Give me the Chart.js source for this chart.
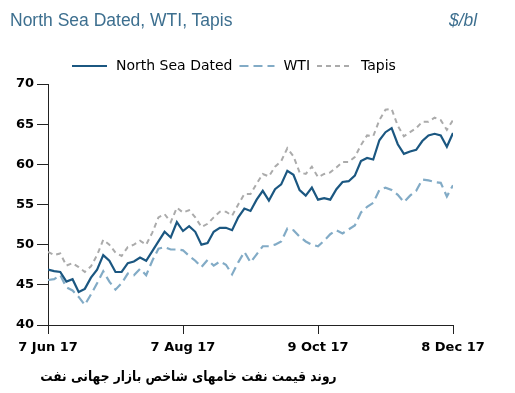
<!DOCTYPE html>
<html>
<head>
<meta charset="utf-8">
<script src="https://cdn.jsdelivr.net/npm/chart.js@4"></script>
<style>
  body { margin: 0; background: #fff; }
  #wrap { position: relative; width: 515px; height: 393px; }
  #title { position: absolute; left: 10px; top: 10px; font: 17.5px 'Liberation Sans', sans-serif; color: #3d6f8f; }
  #unit { position: absolute; left: 449px; top: 10px; font: italic 17.5px 'Liberation Sans', sans-serif; color: #3d6f8f; }
  #caption { position: absolute; right: 178px; top: 368px; font: bold 14px 'DejaVu Sans', sans-serif; color: #000; direction: rtl; white-space: nowrap; transform: scaleX(0.875); transform-origin: right center; }
</style>
</head>
<body>
<div id="wrap">
  <canvas id="chart"></canvas>
  <div id="title">North Sea Dated, WTI, Tapis</div>
  <div id="unit">$/bl</div>
  <div id="caption">روند قیمت نفت خامهای شاخص بازار جهانی نفت</div>
</div>
<script>
// trading-day index, every 2nd day from 7 Jun 17
const days = [0, 2, 4, 6, 8, 10, 12, 14, 16, 18, 20, 22, 24, 26, 28, 30, 32, 34, 36, 38,
  40, 42, 44, 46, 48, 50, 52, 54, 56, 58, 60, 62, 64, 66, 68, 70, 72, 74, 76, 78,
  80, 82, 84, 86, 88, 90, 92, 94, 96, 98, 100, 102, 104, 106, 108, 110, 112, 114, 116, 118,
  120, 122, 124, 126, 128, 130, 132];

const northSea = [46.9, 46.7, 46.6, 45.4, 45.7, 44.1, 44.5, 45.9, 46.9, 48.7,
  48.0, 46.6, 46.6, 47.7, 47.9, 48.4, 48.0, 49.2, 50.4, 51.6,
  50.9, 52.8, 51.7, 52.3, 51.6, 50.0, 50.2, 51.6, 52.1, 52.1,
  51.8, 53.4, 54.5, 54.2, 55.6, 56.7, 55.5, 56.9, 57.5, 59.2,
  58.7, 56.8, 56.1, 57.1, 55.6, 55.8, 55.6, 56.9, 57.8, 57.9,
  58.6, 60.4, 60.8, 60.6, 63.0, 64.0, 64.5, 62.5, 61.3, 61.6,
  61.8, 62.9, 63.6, 63.8, 63.6, 62.2, 63.9];

const wti = [45.6, 45.7, 46.2, 44.7, 44.3, 43.5, 42.5, 43.8, 45.2, 46.7,
  45.4, 44.4, 45.2, 46.4, 46.2, 47.0, 46.2, 48.0, 49.5, 49.7,
  49.4, 49.4, 49.3, 48.6, 48.0, 47.2, 48.1, 47.4, 47.9, 47.5,
  46.3, 47.8, 49.1, 47.8, 48.8, 49.8, 49.8, 50.0, 50.4, 52.0,
  51.8, 51.0, 50.4, 50.0, 49.8, 50.5, 51.3, 51.8, 51.4, 51.9,
  52.4, 54.0, 54.7, 55.2, 56.8, 57.1, 56.8, 56.2, 55.3, 56.1,
  56.7, 58.1, 58.0, 57.8, 57.7, 56.0, 57.4];

const tapis = [49.1, 48.7, 48.9, 47.4, 47.7, 47.2, 46.6, 47.3, 48.7, 50.6,
  50.0, 49.0, 48.6, 49.7, 50.0, 50.5, 50.0, 51.5, 53.4, 53.8,
  52.8, 54.6, 54.0, 54.3, 53.4, 52.2, 52.6, 53.4, 54.1, 54.1,
  53.6, 55.0, 56.3, 56.3, 57.6, 58.8, 58.5, 59.7, 60.4, 62.0,
  61.0, 59.0, 58.8, 59.7, 58.4, 58.8, 59.0, 59.6, 60.3, 60.3,
  60.9, 62.4, 63.6, 63.5, 65.5, 66.8, 66.9, 64.8, 63.5, 64.0,
  64.5, 65.3, 65.3, 65.8, 65.5, 64.3, 65.5];

const dateTicks = [0, 44, 88, 132];
const dateLabels = ['7 Jun 17', '7 Aug 17', '9 Oct 17', '8 Dec 17'];
const yTicks = [40, 45, 50, 55, 60, 65, 70];

function pts(values) {
    return values.map((v, i) => ({ x: days[i], y: v }));
}

// Legend drawn above the plot with line samples
const legendPlugin = {
    id: 'lineLegend',
    afterDraw(chart) {
        const ctx = chart.ctx;
        let x = 72;
        const y = 66;
        ctx.save();
        ctx.font = '14px "DejaVu Sans", sans-serif';
        ctx.textBaseline = 'middle';
        chart.data.datasets.forEach(ds => {
            ctx.strokeStyle = ds.borderColor;
            ctx.lineWidth = 2;
            ctx.setLineDash(ds.borderDash || []);
            ctx.beginPath();
            ctx.moveTo(x, y);
            ctx.lineTo(x + 35, y);
            ctx.stroke();
            ctx.setLineDash([]);
            x += 44;
            ctx.fillStyle = '#000';
            ctx.fillText(ds.label, x, y);
            x += ctx.measureText(ds.label).width + 7;
        });
        ctx.restore();
    }
};

const ctx = document.getElementById('chart').getContext('2d');
new Chart(ctx, {
    type: 'line',
    data: {
        datasets: [
            { label: 'North Sea Dated', data: pts(northSea), borderColor: '#1b5781', borderWidth: 2.2 },
            { label: 'WTI', data: pts(wti), borderColor: '#82abc6', borderWidth: 2.2, borderDash: [9, 5] },
            { label: 'Tapis', data: pts(tapis), borderColor: '#ababab', borderWidth: 2, borderDash: [5, 4] }
        ]
    },
    options: {
        responsive: true,
        maintainAspectRatio: false,
        animation: false,
        layout: { padding: { top: 84, right: 62, left: 0, bottom: 0 } },
        elements: { point: { radius: 0 }, line: { tension: 0 } },
        plugins: { legend: { display: false }, tooltip: { enabled: false } },
        scales: {
            x: {
                type: 'linear',
                min: 0,
                max: 132,
                afterFit: s => { s.height = 68; },
                afterBuildTicks: s => { s.ticks = dateTicks.map(v => ({ value: v })); },
                border: { color: '#222', width: 1 },
                grid: { drawOnChartArea: false, drawTicks: true, tickLength: 9, color: '#222' },
                ticks: {
                    color: '#000',
                    padding: 6,
                    maxRotation: 0,
                    font: { family: 'DejaVu Sans', size: 13, weight: 'bold' },
                    callback: v => dateLabels[dateTicks.indexOf(v)]
                }
            },
            y: {
                min: 40,
                max: 70,
                afterFit: s => { s.width = 48; },
                afterBuildTicks: s => { s.ticks = yTicks.map(v => ({ value: v })); },
                border: { color: '#222', width: 1 },
                grid: { drawOnChartArea: false, drawTicks: true, tickLength: 11, color: '#222' },
                ticks: {
                    color: '#000',
                    padding: 3,
                    font: { family: 'DejaVu Sans', size: 13, weight: 'bold' }
                }
            }
        }
    },
    plugins: [legendPlugin]
});
</script>
</body>
</html>
